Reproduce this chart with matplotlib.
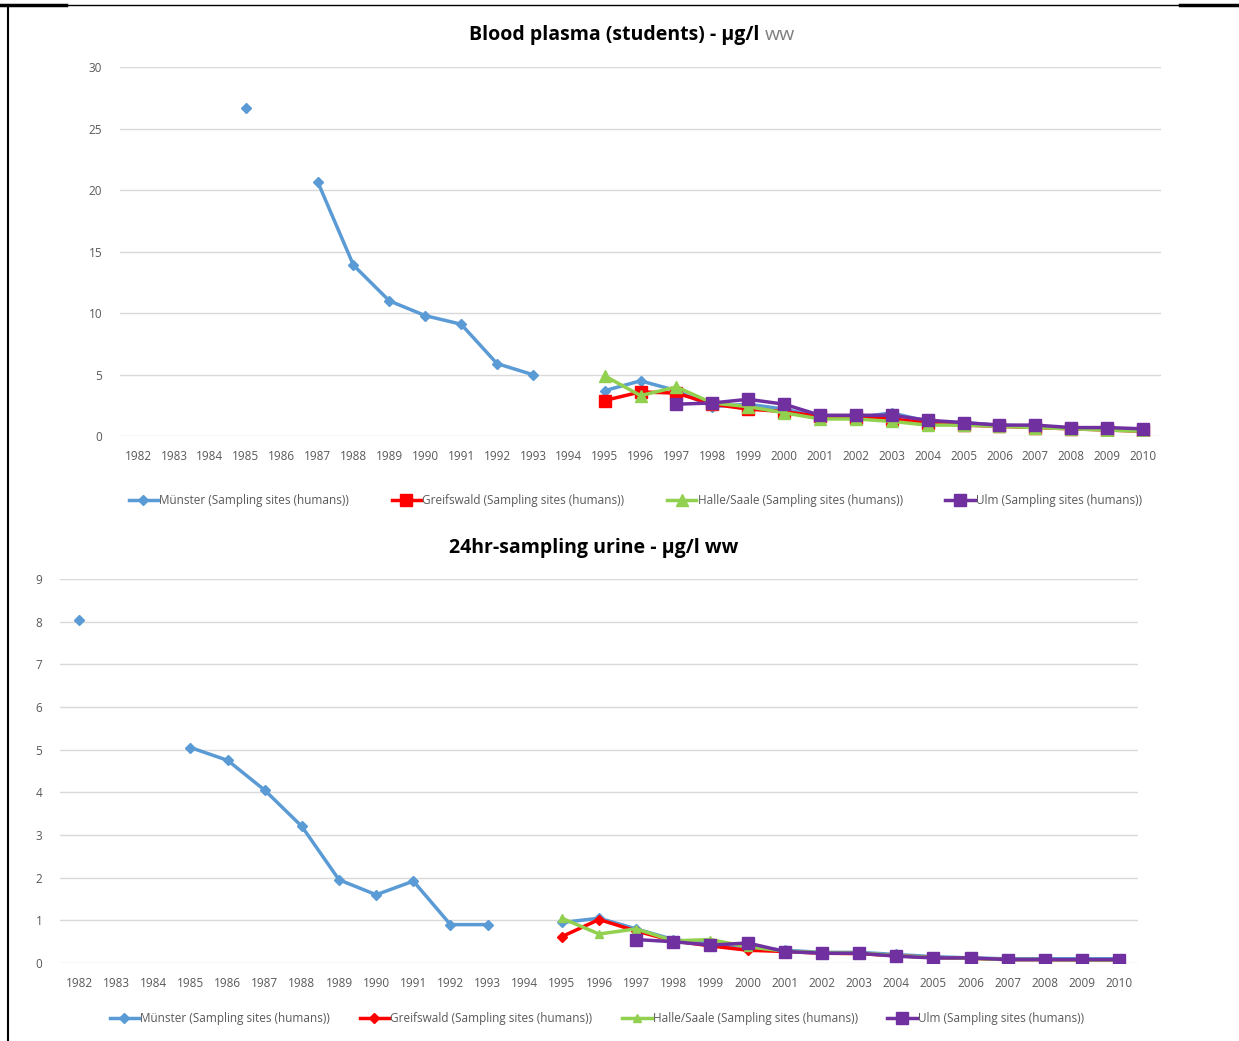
import numpy as np
import matplotlib.pyplot as plt
from matplotlib.lines import Line2D

plt.rcParams['font.family'] = ['Open Sans', 'DejaVu Sans']

years = list(range(1982, 2011))
nan = np.nan

# blood plasma (students), ug/l ww
plasma_muenster = [nan, nan, nan, 26.7, nan, 20.7, 13.9, 11.0, 9.8, 9.1, 5.9, 5.0, nan,
                   3.7, 4.5, 3.7, 2.4, 2.6, 2.2, 1.6, 1.5, 1.9, 1.2, 1.1, 0.9, 0.8, 0.6, 0.6, 0.5]
plasma_greifswald = [nan] * 13 + [2.9, 3.6, 3.5, 2.6, 2.2, 2.0, 1.6, 1.5, 1.4, 1.1, 0.9, 0.8, 0.7, 0.6, 0.5, 0.4]
plasma_halle = [nan] * 13 + [4.9, 3.3, 4.0, 2.7, 2.4, 1.9, 1.4, 1.4, 1.2, 0.9, 0.9, 0.8, 0.7, 0.6, 0.5, 0.4]
plasma_ulm = [nan] * 15 + [2.6, 2.7, 3.0, 2.6, 1.7, 1.7, 1.7, 1.3, 1.1, 0.9, 0.9, 0.7, 0.7, 0.6]

# 24hr-sampling urine, ug/l ww
urine_muenster = [8.05, nan, nan, 5.05, 4.75, 4.05, 3.2, 1.95, 1.6, 1.92, 0.9, 0.9, nan,
                  0.95, 1.05, 0.8, 0.55, 0.45, 0.38, 0.3, 0.25, 0.25, 0.2, 0.15, 0.12, 0.1, 0.1, 0.1, 0.1]
urine_greifswald = [nan] * 13 + [0.62, 1.02, 0.75, 0.52, 0.4, 0.3, 0.27, 0.23, 0.22, 0.17, 0.13, 0.11, 0.08, 0.08, 0.07, 0.07]
urine_halle = [nan] * 13 + [1.05, 0.68, 0.8, 0.52, 0.55, 0.38, 0.28, 0.24, 0.24, 0.17, 0.13, 0.11, 0.08, 0.08, 0.07, 0.07]
urine_ulm = [nan] * 15 + [0.55, 0.5, 0.42, 0.47, 0.27, 0.23, 0.23, 0.16, 0.12, 0.12, 0.08, 0.08, 0.08, 0.08]

labels = ['Münster (Sampling sites (humans))', 'Greifswald (Sampling sites (humans))',
          'Halle/Saale (Sampling sites (humans))', 'Ulm (Sampling sites (humans))']
colors = ['#5B9BD5', '#FF0000', '#92D050', '#7030A0']
grey = '#595959'

fig = plt.figure(figsize=(12.39, 10.41), dpi=100)
x = np.arange(len(years))


def draw(ax, series, markers, sizes, ymax, step):
    for s, c, m, ms, lab in zip(series, colors, markers, sizes, labels):
        ax.plot(x, s, color=c, marker=m, markersize=ms, linewidth=2.5, label=lab)
    ax.set_xlim(-0.5, len(years) - 0.5)
    ax.set_ylim(0, ymax)
    ax.set_yticks(np.arange(0, ymax + 0.01, step))
    ax.set_xticks(x)
    ax.set_xticklabels([str(y) for y in years])
    ax.tick_params(length=0, labelsize=8.5, labelcolor=grey, pad=10)
    ax.tick_params(axis='y', pad=13)
    ax.grid(axis='y', color='#D9D9D9', linewidth=1)
    ax.set_axisbelow(True)
    for sp in ax.spines.values():
        sp.set_visible(False)


ax1 = fig.add_axes([0.097, 0.581, 0.840, 0.3545])
draw(ax1, [plasma_muenster, plasma_greifswald, plasma_halle, plasma_ulm],
     ['D', 's', '^', 's'], [5, 8, 8, 8], 30, 5)
ax1.legend(loc='center', bbox_to_anchor=(0.495, -0.175), ncol=4, frameon=False,
           fontsize=8.5, labelcolor=grey, handlelength=2.5, handletextpad=0.1, columnspacing=3.6)

ax2 = fig.add_axes([0.0488, 0.0749, 0.8694, 0.3689])
draw(ax2, [urine_muenster, urine_greifswald, urine_halle, urine_ulm],
     ['D', 'D', '^', 's'], [5, 5, 6, 8], 9, 1)
ax2.legend(loc='center', bbox_to_anchor=(0.498, -0.144), ncol=4, frameon=False,
           fontsize=8.5, labelcolor=grey, handlelength=2.5, handletextpad=0.1, columnspacing=2.5)

# titles
fig.text(0.617, 0.966, 'Blood plasma (students) - µg/l ', ha='right', va='center',
         fontsize=14, fontweight='bold')
fig.text(0.617, 0.966, 'ww', ha='left', va='center', fontsize=14, color='#7F7F7F')
fig.text(0.479, 0.474, '24hr-sampling urine - µg/l ww', ha='center', va='center',
         fontsize=14, fontweight='bold')

# frame lines
fig.add_artist(Line2D([0, 1], [0.995, 0.995], color='black', linewidth=1, transform=fig.transFigure))
fig.add_artist(Line2D([0, 0.053], [0.995, 0.995], color='black', linewidth=2.5, transform=fig.transFigure))
fig.add_artist(Line2D([0.952, 1], [0.995, 0.995], color='black', linewidth=2.5, transform=fig.transFigure))
fig.add_artist(Line2D([0.0065, 0.0065], [0, 0.995], color='black', linewidth=1.5, transform=fig.transFigure))

fig.savefig('out.png', dpi=100)
